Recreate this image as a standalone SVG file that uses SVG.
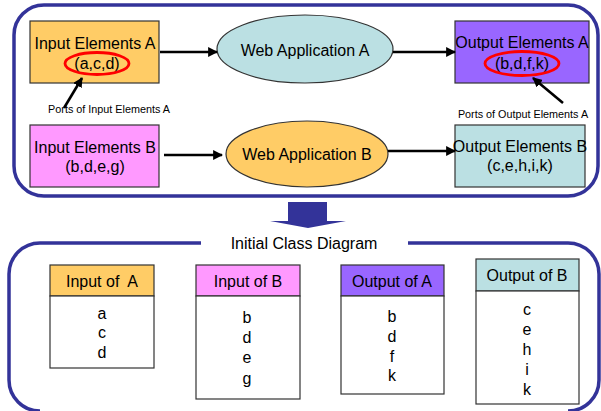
<svg xmlns="http://www.w3.org/2000/svg" width="601" height="411" viewBox="0 0 601 411">
<defs>
<style>
text{font-family:"Liberation Sans",Arial,sans-serif;fill:#000;text-anchor:middle}
.t16{font-size:16px}
.small{font-size:10.8px}
.frame{fill:none;stroke:#333399;stroke-width:3.5}
.box{stroke:#333;stroke-width:1.2}
.conn{stroke:#000;stroke-width:2.6;fill:none;marker-end:url(#ah)}
.port{fill:none;stroke:#f00;stroke-width:2.8}
.orange{fill:#FFCC66}
.pink{fill:#FF99FF}
.purple{fill:#9966FF}
.cyan{fill:#BBE0E3}
.white{fill:#fff}
</style>
<marker id="ah" viewBox="0 0 10 10" refX="9" refY="5" markerWidth="3.8" markerHeight="3.8" orient="auto" markerUnits="strokeWidth">
<path d="M0,0 L10,5 L0,10 z" fill="#000"/>
</marker>
</defs>
<rect fill="#fff" width="601" height="411"/>

<g id="frames">
<rect class="frame" x="14" y="5" width="584" height="191" rx="30" ry="30"/>
<path class="frame" d="M201,243 H40 A31,31 0 0 0 9,274 V380 A31,31 0 0 0 40,411"/>
<path class="frame" d="M408,243 H568 A31,31 0 0 1 599,274 V380 A31,31 0 0 1 568,411"/>
<text class="t16" x="304" y="249">Initial Class Diagram</text>
<polygon fill="#333399" points="288,202 327,202 327,221 346,221 308,228 270,221 288,221"/>
</g>

<g id="inputA">
<rect class="box orange" x="30" y="21" width="129" height="62"/>
<text class="t16" x="95" y="49">Input Elements A</text>
<text class="t16" x="97" y="69">(a,c,d)</text>
<ellipse class="port" cx="97" cy="63.5" rx="32" ry="11"/>
</g>

<g id="webA">
<ellipse class="cyan" stroke="#333" stroke-width="1.2" cx="305" cy="49" rx="88" ry="34"/>
<text class="t16" x="305" y="56">Web Application A</text>
</g>

<g id="outputA">
<rect class="box purple" x="455" y="21" width="134" height="62"/>
<text class="t16" x="522" y="48">Output Elements A</text>
<text class="t16" x="522" y="69">(b,d,f,k)</text>
<ellipse class="port" cx="522" cy="63.5" rx="37" ry="12"/>
</g>

<g id="inputB">
<rect class="box pink" x="30" y="125" width="129" height="62"/>
<text class="t16" x="95" y="153">Input Elements B</text>
<text class="t16" x="95" y="172">(b,d,e,g)</text>
</g>

<g id="webB">
<ellipse class="orange" stroke="#333" stroke-width="1.2" cx="307" cy="154" rx="81" ry="33"/>
<text class="t16" x="307" y="160">Web Application B</text>
</g>

<g id="outputB">
<rect class="box cyan" x="455" y="125" width="130" height="62"/>
<text class="t16" x="520" y="152">Output Elements B</text>
<text class="t16" x="520" y="171">(c,e,h,i,k)</text>
</g>

<g id="portLabelA">
<text class="small" x="109" y="113">Ports of Input Elements A</text>
</g>
<g id="portLabelOutA">
<text class="small" x="523" y="118">Ports of Output Elements A</text>
</g>

<g id="connectors">
<line class="conn" x1="160" y1="52" x2="217" y2="52"/>
<line class="conn" x1="393" y1="52" x2="455" y2="52"/>
<line class="conn" x1="164" y1="155" x2="222" y2="155"/>
<line class="conn" x1="388" y1="151" x2="455" y2="151"/>
<line class="conn" x1="64" y1="108" x2="82" y2="78"/>
<line class="conn" x1="563" y1="103" x2="533" y2="78"/>
</g>

<g id="classInputA">
<rect class="box orange" x="50" y="265" width="104" height="31"/>
<rect class="box white" x="50" y="296" width="104" height="72"/>
<text class="t16" x="102" y="287" style="white-space:pre">Input of  A</text>
<text class="t16" x="102" y="319">a</text>
<text class="t16" x="102" y="338">c</text>
<text class="t16" x="102" y="358">d</text>
</g>

<g id="classInputB">
<rect class="box pink" x="196" y="265" width="104" height="31"/>
<rect class="box white" x="196" y="296" width="104" height="103"/>
<text class="t16" x="248" y="287">Input of B</text>
<text class="t16" x="247" y="323">b</text>
<text class="t16" x="247" y="343">d</text>
<text class="t16" x="247" y="363">e</text>
<text class="t16" x="247" y="384">g</text>
</g>

<g id="classOutputA">
<rect class="box purple" x="341" y="265" width="103" height="31"/>
<rect class="box white" x="341" y="296" width="103" height="98"/>
<text class="t16" x="392" y="287">Output of A</text>
<text class="t16" x="392" y="322">b</text>
<text class="t16" x="392" y="342">d</text>
<text class="t16" x="392" y="362">f</text>
<text class="t16" x="392" y="381">k</text>
</g>

<g id="classOutputB">
<rect class="box cyan" x="476" y="259" width="103" height="32"/>
<rect class="box white" x="476" y="291" width="103" height="113"/>
<text class="t16" x="527" y="281">Output of B</text>
<text class="t16" x="527" y="315">c</text>
<text class="t16" x="527" y="335">e</text>
<text class="t16" x="527" y="355">h</text>
<text class="t16" x="527" y="375">i</text>
<text class="t16" x="527" y="395">k</text>
</g>
</svg>
